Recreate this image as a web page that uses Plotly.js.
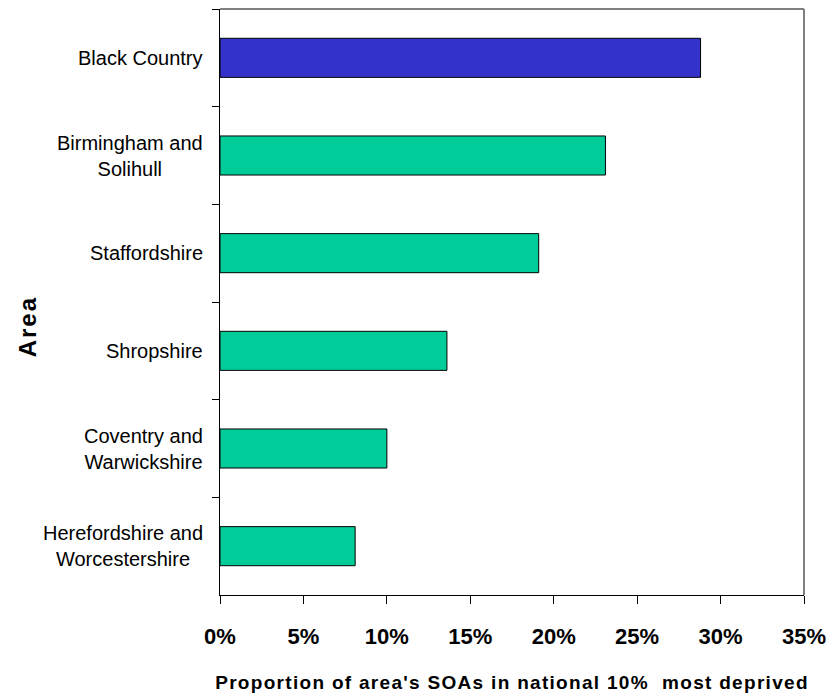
<!DOCTYPE html>
<html>
<head>
<meta charset="utf-8">
<script src="https://cdn.plot.ly/plotly-3.0.1.min.js"></script>
<style>
html, body { margin: 0; padding: 0; background: #fff; }
#chart { width: 840px; height: 698px; }
.xtitle { letter-spacing: 1.3px; }
.annotation.area-title text, g.annotation:last-of-type text { }
</style>
</head>
<body>
<div id="chart"></div>
<script>
// Data (top to bottom as drawn)
const areas = [
  "Black Country",
  "Birmingham and<br>Solihull",
  "Staffordshire",
  "Shropshire",
  "Coventry and<br>Warwickshire",
  "Herefordshire and<br>Worcestershire"
];
const proportions = [0.288, 0.231, 0.191, 0.136, 0.100, 0.081];
const barColors = ["#3333CC", "#00CC99", "#00CC99", "#00CC99", "#00CC99", "#00CC99"];
const xTickVals = [0, 0.05, 0.10, 0.15, 0.20, 0.25, 0.30, 0.35];
const xTickText = ["0%", "5%", "10%", "15%", "20%", "25%", "30%", "35%"];
const yTitle = "Area";
const xTitle = "Proportion of area's SOAs in national 10%&nbsp; most deprived";

const font = "Liberation Sans, Arial, Helvetica, sans-serif";

const trace = {
  type: "bar",
  orientation: "h",
  x: proportions,
  y: areas,
  marker: { color: barColors, line: { color: "#000000", width: 1 } },
  hoverinfo: "x+y"
};

// Category labels as centred annotations (reference centres multi-line labels)
const catAnnotations = areas.map(a => ({
  xref: "paper", yref: "y", x: 0, y: a,
  xanchor: "right", yanchor: "middle", xshift: -15,
  text: a, align: "center", showarrow: false,
  font: { family: font, size: 20, color: "#000000" }
}));

const titleAnnotation = {
  xref: "paper", yref: "paper", x: -0.33, y: 0.459,
  xanchor: "center", yanchor: "middle",
  text: "<b>" + yTitle + "</b>", textangle: -90, showarrow: false,
  font: { family: font, size: 24, color: "#000000" }
};

const layout = {
  width: 840,
  height: 698,
  margin: { l: 220, r: 36, t: 9, b: 103, pad: 0 },
  paper_bgcolor: "#ffffff",
  plot_bgcolor: "#ffffff",
  showlegend: false,
  bargap: 0.6,
  font: { family: font, color: "#000000" },
  xaxis: {
    range: [0, 0.35],
    tickvals: xTickVals,
    ticktext: xTickText,
    showgrid: false,
    zeroline: false,
    showline: true,
    linecolor: "#000000",
    linewidth: 1,
    ticks: "outside",
    ticklen: 8,
    tickcolor: "#000000",
    ticklabelstandoff: 14,
    tickfont: { family: font, size: 22, color: "#000000", weight: "bold" },
    title: {
      text: "<b>" + xTitle + "</b>",
      font: { family: font, size: 19, color: "#000000" },
      standoff: 27
    },
    fixedrange: true
  },
  yaxis: {
    autorange: "reversed",
    type: "category",
    showgrid: false,
    zeroline: false,
    showline: true,
    linecolor: "#000000",
    linewidth: 1,
    ticks: "outside",
    tickson: "boundaries",
    ticklen: 7,
    tickcolor: "#000000",
    showticklabels: false,
    fixedrange: true
  },
  annotations: catAnnotations.concat([titleAnnotation]),
  shapes: [
    { type: "line", xref: "paper", yref: "paper", x0: 0, x1: 1, y0: 1, y1: 1,
      line: { color: "#808080", width: 2 } },
    { type: "line", xref: "paper", yref: "paper", x0: 1, x1: 1, y0: 0, y1: 1,
      line: { color: "#808080", width: 2 } }
  ]
};

Plotly.newPlot("chart", [trace], layout, { displayModeBar: false, staticPlot: true }).then(() => {
  const anns = document.querySelectorAll("#chart g.annotation");
  const last = anns[anns.length - 1];
  if (last) {
    const t = last.querySelector("text");
    if (t) t.style.letterSpacing = "2px";
  }
});
</script>
</body>
</html>
